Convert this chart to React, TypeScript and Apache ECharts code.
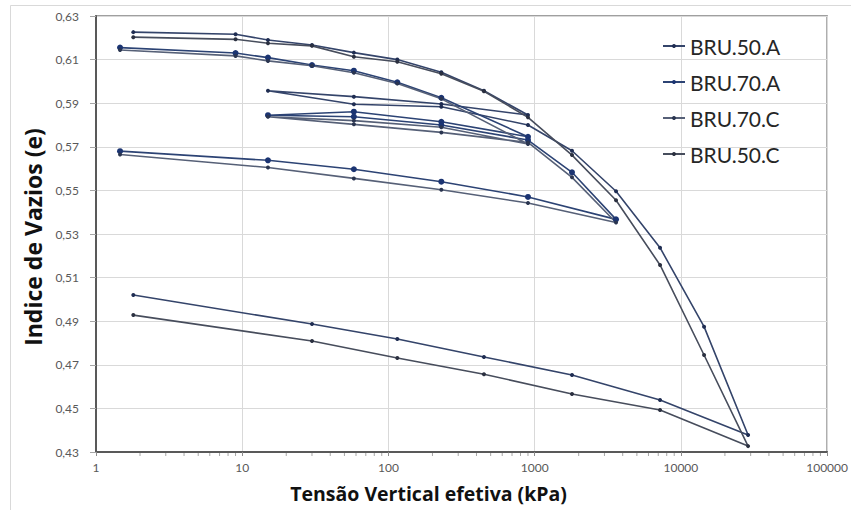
import { useEffect, useRef } from "react";
import * as echarts from "echarts";

// Oedometer tests: effective vertical stress steps (kPa) and void ratio (e)
const bru50A_kPa = [1.8, 9, 15, 30, 58, 115, 230, 450, 900, 230, 58, 15, 58, 230, 900, 1800, 3600, 7200, 14400, 28800, 7200, 1800, 450, 115, 30, 1.8];
const bru50A_e = [0.6226, 0.6216, 0.619, 0.6167, 0.6132, 0.61, 0.6042, 0.5957, 0.5846, 0.5896, 0.593, 0.5957, 0.5895, 0.5884, 0.58, 0.5682, 0.5496, 0.5237, 0.4875, 0.4378, 0.4539, 0.4653, 0.4736, 0.4818, 0.4887, 0.502];

const bru70A_kPa = [1.46, 9, 15, 30, 58, 115, 230, 900, 230, 58, 15, 58, 230, 900, 1800, 3600, 900, 230, 58, 15, 1.46];
const bru70A_e = [0.6155, 0.613, 0.6109, 0.6075, 0.6049, 0.5996, 0.5925, 0.5746, 0.5815, 0.5861, 0.5845, 0.5838, 0.58, 0.5731, 0.5583, 0.5367, 0.547, 0.554, 0.5597, 0.5638, 0.568];

const bru70C_kPa = [1.46, 9, 15, 30, 58, 115, 230, 900, 230, 58, 15, 58, 230, 900, 1800, 3600, 900, 230, 58, 15, 1.46];
const bru70C_e = [0.6144, 0.6117, 0.6094, 0.6072, 0.604, 0.599, 0.592, 0.5713, 0.579, 0.582, 0.5838, 0.5803, 0.5766, 0.572, 0.556, 0.5353, 0.5442, 0.5503, 0.5555, 0.5605, 0.5665];

const bru50C_kPa = [1.8, 9, 15, 30, 58, 115, 230, 450, 900, 1800, 3600, 7200, 14400, 28800, 7200, 1800, 450, 115, 30, 1.8];
const bru50C_e = [0.6203, 0.6193, 0.6175, 0.6163, 0.6113, 0.609, 0.6035, 0.5955, 0.5835, 0.5662, 0.5455, 0.5158, 0.4745, 0.4327, 0.4493, 0.4566, 0.4657, 0.4731, 0.4809, 0.4928];

const seriesNames = ["BRU.50.A", "BRU.70.A", "BRU.70.C", "BRU.50.C"];

// Axis ranges
const eMin = 0.43;
const eMax = 0.63;
const eStep = 0.02;
const stressMin = 1;
const stressMax = 100000;
const decades = [1, 10, 100, 1000, 10000];
const minorMultipliers = [2, 3, 4, 5, 6, 7, 8, 9];

const zip = (xs: number[], ys: number[]) => xs.map((x, i) => [x, ys[i]]);

const seriesDefs = [
  { name: seriesNames[0], data: zip(bru50A_kPa, bru50A_e), line: "#34446a", mark: "#1f2d52", size: 4 },
  { name: seriesNames[1], data: zip(bru70A_kPa, bru70A_e), line: "#2c4374", mark: "#1b3472", size: 6 },
  { name: seriesNames[2], data: zip(bru70C_kPa, bru70C_e), line: "#566077", mark: "#2a3550", size: 4 },
  { name: seriesNames[3], data: zip(bru50C_kPa, bru50C_e), line: "#474d5c", mark: "#2b3040", size: 4 },
];

const FONT = "Lato, 'Open Sans', 'DejaVu Sans', sans-serif";
const TITLE_FONT = "'Open Sans', Lato, 'DejaVu Sans', sans-serif";

export default function App() {
  const ref = useRef<HTMLDivElement>(null);

  useEffect(() => {
    if (!ref.current) return;
    const chart = echarts.init(ref.current, undefined, { renderer: "svg" });

    const minorTicks = decades.flatMap((d) => minorMultipliers.map((m) => [d * m, eMin]));

    const option: any = {
      animation: false,
      backgroundColor: "#ffffff",
      textStyle: { fontFamily: FONT },
      graphic: [
        {
          type: "rect",
          shape: { x: 10.5, y: 5.5, width: 850, height: 520 },
          style: { fill: "none", stroke: "#d9d9d9", lineWidth: 1 },
          silent: true,
          z: -10,
        },
      ],
      grid: {
        left: 96,
        right: 22,
        top: 16,
        bottom: 58,
        show: true,
        borderColor: "#808080",
        borderWidth: 1.5,
      },
      legend: {
        orient: "vertical",
        left: 657,
        top: 30,
        itemWidth: 22,
        itemHeight: 5,
        itemGap: 14,
        data: seriesNames,
        textStyle: { fontSize: 21, color: "#262626", lineHeight: 22, fontFamily: FONT },
      },
      xAxis: {
        type: "log",
        logBase: 10,
        min: stressMin,
        max: stressMax,
        name: "Tensão Vertical efetiva (kPa)",
        nameLocation: "middle",
        nameGap: 31,
        nameTextStyle: {
          fontSize: 19.5,
          fontWeight: "bold",
          color: "#111111",
          fontFamily: TITLE_FONT,
          padding: [0, 66, 0, 0],
        },
        axisLine: { show: true, lineStyle: { color: "#595959", width: 2 } },
        axisTick: { show: true, length: 4, lineStyle: { color: "#8c8c8c" } },
        axisLabel: {
          color: "#595959",
          fontSize: 12,
          margin: 9,
          formatter: (v: number) => String(Math.round(v)),
        },
        splitLine: { show: true, lineStyle: { color: "#d9d9d9", width: 1 } },
      },
      yAxis: {
        type: "value",
        min: eMin,
        max: eMax,
        interval: eStep,
        name: "Indice de Vazios (e)",
        nameLocation: "middle",
        nameGap: 50,
        nameTextStyle: {
          fontSize: 23,
          fontWeight: "bold",
          color: "#111111",
          fontFamily: TITLE_FONT,
          padding: [0, 6, 0, 0],
        },
        axisLine: { show: true, lineStyle: { color: "#595959", width: 2 } },
        axisTick: { show: true, length: 6, lineStyle: { color: "#a6a6a6" } },
        axisLabel: {
          color: "#595959",
          fontSize: 12,
          margin: 17,
          formatter: (v: number) => v.toFixed(2).replace(".", ","),
        },
        splitLine: { show: true, lineStyle: { color: "#d9d9d9", width: 1 } },
      },
      series: [
        ...seriesDefs.map((s) => ({
          name: s.name,
          type: "line",
          data: s.data,
          symbol: "circle",
          symbolSize: s.size,
          showSymbol: true,
          lineStyle: { color: s.line, width: 1.6 },
          itemStyle: { color: s.mark, borderWidth: 0 },
          emphasis: { disabled: true },
          z: 3,
        })),
        {
          name: "minorTicks",
          type: "custom",
          data: minorTicks,
          silent: true,
          clip: false,
          z: 5,
          renderItem: (_params: any, api: any) => {
            const p = api.coord([api.value(0), api.value(1)]);
            return {
              type: "line",
              shape: { x1: p[0], y1: p[1] + 1, x2: p[0], y2: p[1] + 4 },
              style: { stroke: "#a6a6a6", lineWidth: 1 },
            };
          },
        },
      ],
    };

    chart.setOption(option);
    return () => chart.dispose();
  }, []);

  return (
    <div
      ref={ref}
      style={{ position: "fixed", left: 0, top: 0, width: 851, height: 510 }}
    />
  );
}
